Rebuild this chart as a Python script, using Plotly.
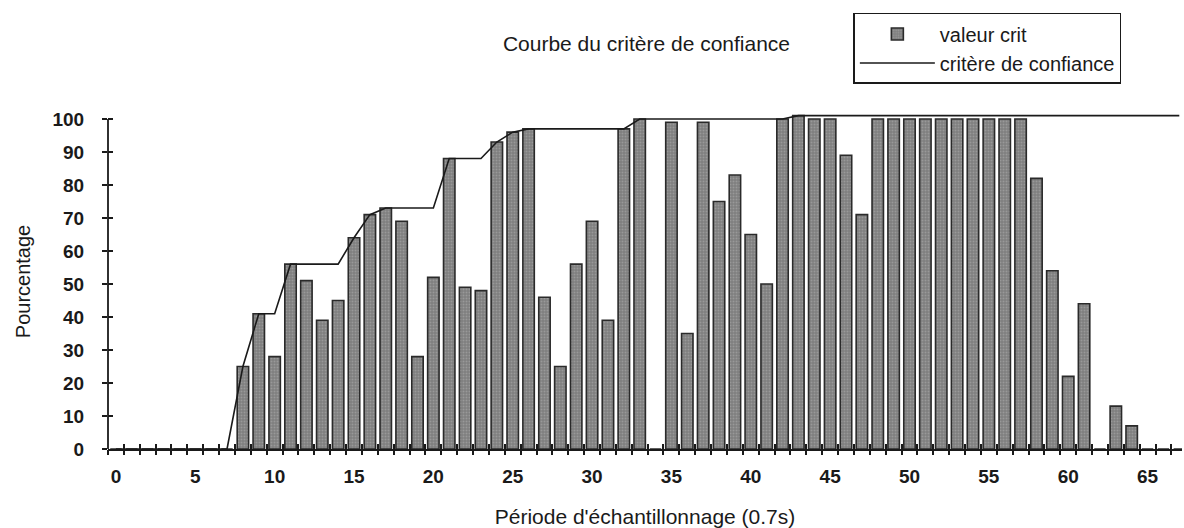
import plotly.graph_objects as go

# Sampling periods (index of each 0.7 s period)
periodes = list(range(0, 68))

# Critical value per sampling period (percent); 0 where nothing was measured
valeur_crit = [
    0, 0, 0, 0, 0, 0, 0, 0, 25, 41,
    28, 56, 51, 39, 45, 64, 71, 73, 69, 28,
    52, 88, 49, 48, 93, 96, 97, 46, 25, 56,
    69, 39, 97, 100, 0, 99, 35, 99, 75, 83,
    65, 50, 100, 101, 100, 100, 89, 71, 100, 100,
    100, 100, 100, 100, 100, 100, 100, 100, 82, 54,
    22, 44, 0, 13, 7, 0, 0, 0,
]

# Confidence criterion (percent) per sampling period
critere_confiance = [
    0, 0, 0, 0, 0, 0, 0, 0, 25, 41,
    41, 56, 56, 56, 56, 64, 71, 73, 73, 73,
    73, 88, 88, 88, 93, 96, 97, 97, 97, 97,
    97, 97, 97, 100, 100, 100, 100, 100, 100, 100,
    100, 100, 100, 101, 101, 101, 101, 101, 101, 101,
    101, 101, 101, 101, 101, 101, 101, 101, 101, 101,
    101, 101, 101, 101, 101, 101, 101, 101,
]

# Axis ticks
x_label_vals = list(range(0, 70, 5))
x_label_text = [str(v) for v in x_label_vals]
x_tick_bounds = [k - 0.5 for k in range(0, 68)]
y_tick_vals = list(range(0, 110, 10))
y_axis_top = 100

FONT = "Arial, Liberation Sans, sans-serif"
INK = "#1a1a1a"

fig = go.Figure()

fig.add_trace(go.Bar(
    x=periodes,
    y=valeur_crit,
    width=0.72,
    name="valeur crit",
    marker=dict(
        color="#8a8a8a",
        line=dict(color="#2a2a2a", width=1.6),
        pattern=dict(shape=".", size=3, solidity=0.35,
                     fgcolor="#b4b4b4", bgcolor="#7e7e7e"),
    ),
))

fig.add_trace(go.Scatter(
    x=periodes,
    y=critere_confiance,
    mode="lines",
    name="critère de confiance",
    line=dict(color=INK, width=1.6),
))

# Invisible helper traces so the overlay axes (other half of the crossing ticks) render
fig.add_trace(go.Scatter(
    x=[periodes[0]], y=[0], xaxis="x2", yaxis="y2",
    mode="markers", marker=dict(opacity=0), showlegend=False, hoverinfo="skip",
))
fig.add_trace(go.Scatter(
    x=[periodes[0]], y=[0], xaxis="x3", yaxis="y",
    mode="markers", marker=dict(opacity=0), showlegend=False, hoverinfo="skip",
))

x_range = [-0.5, 67.17]
y_range = [0, 101.5]

tick_common = dict(
    showgrid=False, zeroline=False, showline=False,
    tickmode="array", ticklen=5, tickwidth=1.8, tickcolor=INK,
    showticklabels=False,
)

fig.update_layout(
    width=1184,
    height=528,
    margin=dict(l=108, r=2, t=114, b=79),
    paper_bgcolor="white",
    plot_bgcolor="white",
    font=dict(family=FONT, size=20, color=INK),
    title=dict(
        text="Courbe du critère de confiance",
        font=dict(family=FONT, size=21, color=INK),
        x=0.546, xanchor="center",
        y=0.918, yanchor="middle",
    ),
    legend=dict(
        x=0.694, xanchor="left",
        y=1.3015, yanchor="top",
        bgcolor="white",
        bordercolor=INK,
        borderwidth=1.5,
        font=dict(family=FONT, size=20, color=INK),
        itemwidth=75,
        tracegroupgap=0,
    ),
    xaxis=dict(
        range=x_range,
        showgrid=False,
        zeroline=False,
        showline=True,
        linecolor=INK,
        linewidth=1.8,
        tickmode="array",
        tickvals=x_label_vals,
        ticktext=x_label_text,
        ticks="",
        tickfont=dict(family=FONT, size=19, color=INK, weight="bold"),
        ticklabelstandoff=9,
        title=dict(
            text="Période d'échantillonnage (0.7s)",
            font=dict(family=FONT, size=21, color=INK),
            standoff=25,
        ),
    ),
    xaxis2=dict(overlaying="x", anchor="y", side="bottom", range=x_range,
                tickvals=x_tick_bounds, ticks="inside", **tick_common),
    xaxis3=dict(overlaying="x", anchor="y", side="bottom", range=x_range,
                tickvals=x_tick_bounds, ticks="outside", **tick_common),
    yaxis=dict(
        range=y_range,
        showgrid=False,
        zeroline=False,
        showline=False,
        tickmode="array",
        tickvals=y_tick_vals,
        ticks="outside",
        ticklen=5,
        tickwidth=1.8,
        tickcolor=INK,
        tickfont=dict(family=FONT, size=19, color=INK, weight="bold"),
        ticklabelstandoff=14,
        title=dict(
            text="Pourcentage",
            font=dict(family=FONT, size=20, color=INK),
            standoff=16,
        ),
    ),
    yaxis2=dict(overlaying="y", anchor="x", side="left", range=y_range,
                tickvals=y_tick_vals, ticks="inside", **tick_common),
    # Vertical axis line stops at the 100 % tick
    shapes=[dict(
        type="line", xref="paper", yref="y",
        x0=0, x1=0, y0=0, y1=y_axis_top,
        line=dict(color=INK, width=1.8),
    )],
)

fig.write_html("out.html")
